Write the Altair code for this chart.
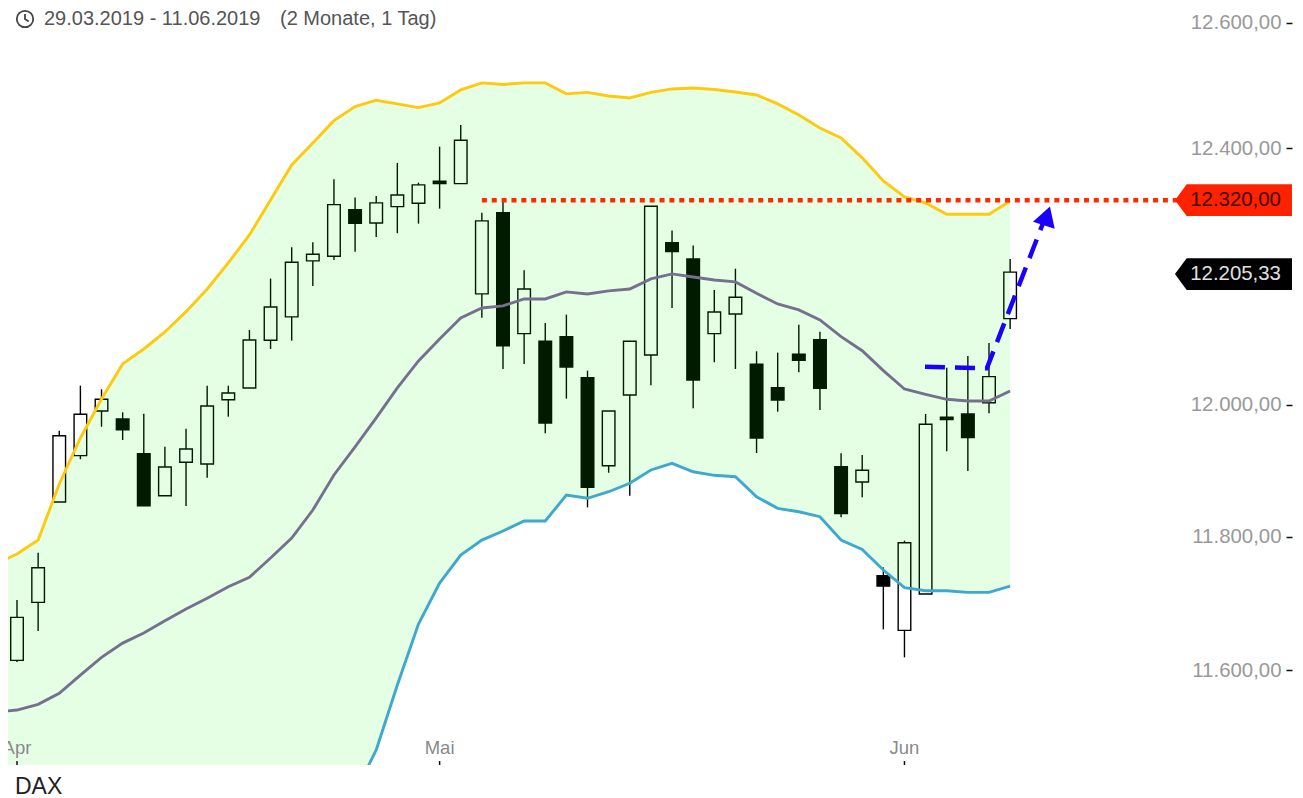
import altair as alt
import pandas as pd

FONT = "Liberation Sans"

highs = [11704.8,11775.7,11960.7,12029.6,12024.1,11988.8,11986.7,11936.3,11963.7,12029.6,12029.6,12115.6,
         12195.2,12244.2,12252.0,12351.0,12322.0,12324.7,12376.7,12345.6,12402.5,12436.9,12298.4,12318.4,
         12208.3,12126.4,12139.2,12052.7,11990.8,12098.1,12309.0,12270.2,12246.7,12177.6,12210.7,12082.6,
         12080.5,12123.7,12112.9,11926.2,11923.5,11753.8,11793.8,11986.2,12057.3,12075.3,12095.4,12225.9]
body_tops = [11678.9,11753.2,11953.0,11985.7,12008.7,11978.5,11925.5,11905.4,11932.7,11998.5,12018.4,12100.0,
             12151.1,12220.8,12233.2,12311.0,12303.1,12313.7,12326.2,12342.0,12347.8,12412.7,12285.4,12298.4,
             12179.1,12098.1,12105.2,12041.9,11990.8,12098.1,12308.5,12251.4,12225.9,12143.4,12166.2,12062.6,
             12026.5,12078.0,12100.5,11905.8,11900.3,11741.2,11790.8,11970.4,11981.1,11986.2,12043.5,12205.33]
body_bottoms = [11615.0,11701.3,11852.2,11922.6,11990.8,11962.2,11846.6,11861.8,11912.5,11909.9,12008.1,12026.1,
                12099.6,12135.7,12222.8,12230.2,12281.7,12282.2,12307.8,12313.2,12344.1,12344.1,12171.4,12091.2,
                12109.8,11972.4,12058.4,11874.5,11907.3,12015.3,12076.9,12237.3,12038.4,12109.8,12140.3,11949.5,
                12007.7,12068.7,12025.6,11834.6,11882.6,11725.7,11659.6,11713.8,11977.5,11950.0,12003.5,12133.0]
lows = [11612.5,11658.5,11852.2,11917.1,11966.7,11946.4,11846.6,11861.8,11846.2,11889.1,11982.1,12026.1,
        12086.1,12099.0,12183.8,12224.4,12237.3,12260.3,12266.1,12281.1,12304.7,12344.1,12134.5,12055.3,
        12063.1,11956.7,12009.7,11844.2,11896.6,11861.8,12030.2,12149.6,11994.9,12065.7,12055.3,11926.6,
        11989.7,12050.2,11992.3,11829.0,11859.3,11661.0,11619.4,11713.8,11929.2,11899.2,11987.3,12117.1]
falling = [5,6,16,20,23,25,26,27,31,32,35,36,37,38,39,41,44,45]

band_upper = [11758.8,11773.8,11794.8,11879.5,11949.5,12009.2,12063.1,12086.1,12112.4,12143.9,12179.1,12219.7,12263.4,
              12318.4,12373.5,12408.3,12443.7,12466.0,12476.2,12470.3,12464.5,12471.9,12492.6,12503.8,12501.4,
              12503.8,12503.8,12486.3,12488.7,12483.0,12479.8,12488.7,12494.2,12495.8,12493.4,12489.4,12484.6,
              12470.3,12452.8,12432.1,12416.3,12384.7,12348.3,12323.1,12313.7,12295.9,12295.9,12295.9,12316.8]
band_middle = [11538.6,11541.5,11550.0,11566.1,11593.2,11619.4,11640.6,11655.6,11673.9,11691.4,11707.4,11724.7,11738.8,
               11767.8,11797.8,11840.1,11893.2,11935.8,11980.1,12026.1,12067.7,12101.6,12134.1,12149.6,12152.8,
               12163.6,12163.6,12174.5,12171.4,12176.1,12179.1,12194.8,12202.5,12197.8,12193.1,12190.1,12172.4,
               12155.8,12146.5,12131.0,12105.2,12083.5,12052.7,12024.5,12016.4,12008.7,12006.1,12006.1,12021.5]
band_lower = [11322.8,11314.1,11310.3,11261.4,11248.0,11242.7,11233.6,11240.8,11251.7,11256.1,11254.2,11250.2,11237.0,
              11242.2,11249.4,11298.2,11367.6,11420.0,11482.8,11578.5,11669.0,11730.2,11772.2,11794.8,11808.4,
              11823.5,11823.5,11862.8,11857.9,11867.8,11880.6,11900.8,11910.9,11898.1,11892.7,11890.6,11860.2,
              11842.6,11837.5,11830.0,11794.8,11780.8,11749.7,11723.2,11718.7,11718.7,11716.3,11716.3,11725.7]

price_ticks = [11600, 11800, 12000, 12400, 12600]
month_labels = ["Apr", "Mai", "Jun"]
month_index = [0, 20, 42]

target_level = 12318
target_span = [22, 54.95]
last_price = 12205.33
arrow_i = [42.97, 45.9, 48.56]
arrow_v = [12058.9, 12056.4, 12282.2]
arrow_tip = (48.74, 12293.2)

x_scale = alt.Scale(domain=[-0.4259, 60.34], nice=False, zero=False, padding=0)
y_scale = alt.Scale(type="log", domain=[11460.8, 12624], nice=False, zero=False)
y_axis = alt.Axis(values=price_ticks, orient="left", offset=-1284, domain=False, grid=False, title=None,
                  tickColor="#111111", tickSize=6, tickWidth=1.5, labelColor="#999999", labelFont=FONT,
                  labelFontSize=20.4, labelPadding=5,
                  labelExpr="format(floor(datum.value/1000),'d')+'.'+format(datum.value%1000,'03d')+',00'")

def X(f="i"):
    return alt.X(f"{f}:Q", scale=x_scale, axis=None, title=None)

def Y(f):
    return alt.Y(f"{f}:Q", scale=y_scale, axis=y_axis, title=None)

candles = pd.DataFrame({"i": range(48), "high": highs, "top": body_tops, "bottom": body_bottoms, "low": lows})
candles["falling"] = candles["i"].isin(falling)
bands = pd.DataFrame({"i": range(-1, 48), "upper": band_upper, "middle": band_middle, "lower": band_lower})
months = pd.DataFrame({"i": month_index, "label": month_labels})
target = pd.DataFrame({"i": target_span, "v": [target_level] * 2})
arrow = pd.DataFrame({"i": arrow_i, "v": arrow_v, "o": [0, 1, 2]})
head = pd.DataFrame({"i": [arrow_tip[0]], "v": [arrow_tip[1]]})
tags = pd.DataFrame({"i": [57.57, 57.57], "ti": [57.67, 57.67], "v": [target_level, last_price - 3], "text": ["12.320,00", "12.205,33"]})
one = pd.DataFrame({"k": [0]})

wick_up = alt.Chart(candles).mark_rule(color="black", strokeWidth=1.4).encode(x=X(), y=Y("high"), y2="top:Q")
wick_down = alt.Chart(candles).mark_rule(color="black", strokeWidth=1.4).encode(x=X(), y=Y("bottom"), y2="low:Q")
hollow = alt.Chart(candles[~candles["falling"]]).mark_bar(size=12.6, orient="vertical", fillOpacity=0, stroke="black", strokeWidth=1.4).encode(x=X(), y=Y("top"), y2="bottom:Q")
solid = alt.Chart(candles[candles["falling"]]).mark_bar(size=12.6, orient="vertical", color="black", stroke="black", strokeWidth=1.4).encode(x=X(), y=Y("top"), y2="bottom:Q")

band = alt.Chart(bands).mark_area(color="#00ff00", opacity=0.105, clip=True).encode(x=X(), y=Y("upper"), y2="lower:Q")
def line(field, color):
    return alt.Chart(bands).mark_line(color=color, strokeWidth=2.9, clip=True).encode(x=X(), y=Y(field))

target_line = alt.Chart(target).mark_line(color="#ff2a00", strokeWidth=4.5, strokeDash=[5, 4.87]).encode(x=X(), y=Y("v"))
arrow_line = alt.Chart(arrow).mark_line(color="#1a00ff", strokeWidth=4.5, strokeDash=[20, 10]).encode(x=X(), y=Y("v"), order="o:Q")
arrow_head = alt.Chart(head).mark_point(shape="triangle-up", angle=18, size=520, filled=True, color="#1a00ff", opacity=1).encode(x=X(), y=Y("v"))

tag_shape = "M -1 0 L -0.8 -0.271 L 1 -0.271 L 1 0.271 L -0.8 0.271 Z"
tag_red = alt.Chart(tags.iloc[[0]]).mark_point(shape=tag_shape, size=13689, filled=True, color="#ff2200", opacity=1).encode(x=X(), y=Y("v"))
tag_black = alt.Chart(tags.iloc[[1]]).mark_point(shape=tag_shape, size=13689, filled=True, color="#000000", opacity=1).encode(x=X(), y=Y("v"))
tag_red_text = alt.Chart(tags.iloc[[0]]).mark_text(font=FONT, fontSize=20.4, color="#3d0500", align="center", baseline="middle").encode(x=X("ti"), y=Y("v"), text="text:N")
tag_black_text = alt.Chart(tags.iloc[[1]]).mark_text(font=FONT, fontSize=20.4, color="#e0e0e0", align="center", baseline="middle").encode(x=X("ti"), y=Y("v"), text="text:N")

month_text = alt.Chart(months).mark_text(font=FONT, fontSize=18.5, color="#8a8a8a", align="center", baseline="middle", clip=True).encode(x=X(), y=alt.value(740), text="label:N")
month_tick = alt.Chart(months).mark_rule(color="#111111", strokeWidth=1.5).encode(x=X(), y=alt.value(753), y2=alt.value(757))

range_text = alt.Chart(one).mark_text(text="29.03.2019 - 11.06.2019", font=FONT, fontSize=20, color="#555555", align="left", baseline="middle").encode(x=alt.value(36), y=alt.value(11))
span_text = alt.Chart(one).mark_text(text="(2 Monate, 1 Tag)", font=FONT, fontSize=20, color="#555555", align="left", baseline="middle").encode(x=alt.value(272), y=alt.value(11))
clock = alt.Chart(one).mark_point(shape="circle", size=270, color="#444444", strokeWidth=1.8, opacity=1).encode(x=alt.value(17), y=alt.value(11))
hands = alt.Chart(one).mark_point(shape="M 0 -0.6 L 0 0 L 0.45 0.3", size=270, color="#444444", strokeWidth=1.8, opacity=1).encode(x=alt.value(17), y=alt.value(11))
dax = alt.Chart(one).mark_text(text="DAX", font=FONT, fontSize=23, color="#222222", align="left", baseline="alphabetic").encode(x=alt.value(7), y=alt.value(786))

chart = alt.layer(
    wick_up, wick_down, hollow, solid, band,
    line("middle", "#76708f"), line("upper", "#ffc90e"), line("lower", "#3fa8cf"),
    target_line, arrow_line, arrow_head,
    tag_red, tag_black, tag_red_text, tag_black_text,
    month_text, month_tick, range_text, span_text, clock, hands, dax,
).properties(
    width=1284, height=757,
    autosize=alt.AutoSizeParams(type="none"),
    padding={"left": 0, "top": 0, "right": 3, "bottom": 33},
).configure_view(stroke=None)

chart.save("out.html", embed_options={"renderer": "svg", "actions": False})
